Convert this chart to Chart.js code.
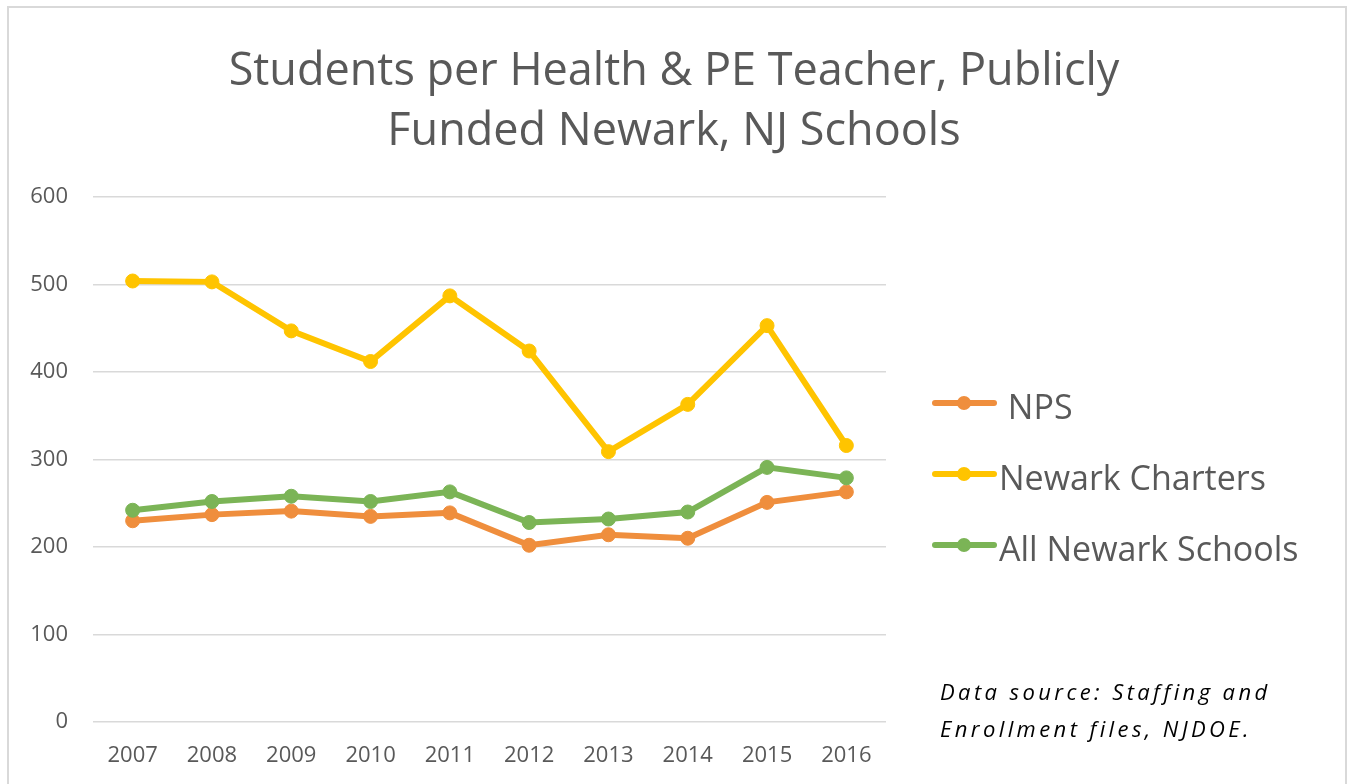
<!DOCTYPE html>
<html>
<head>
<meta charset="utf-8">
<title>Students per Health & PE Teacher</title>
<script src="https://cdn.jsdelivr.net/npm/chart.js@4"></script>
<style>
    body { margin: 0; background: #fff; overflow: hidden; }
    #wrap { position: relative; width: 1348px; height: 784px; overflow: hidden; }
    #frame { position: absolute; left: 7px; top: 6px; width: 1336px; height: 800px; border: 2px solid #d9d9d9; border-bottom: none; pointer-events: none; }
</style>
</head>
<body>
<div id="wrap">
    <canvas id="line-chart" width="1348" height="784"></canvas>
    <div id="frame"></div>
</div>
<script>
// values
var years = ['2007', '2008', '2009', '2010', '2011', '2012', '2013', '2014', '2015', '2016'];
var seriesNames = [' NPS', 'Newark Charters', 'All Newark Schools'];
var npsValues = [230, 237, 241, 235, 239, 202, 214, 210, 251, 263];
var charterValues = [504, 503, 447, 412, 487, 424, 309, 363, 453, 316];
var allSchoolsValues = [242, 252, 258, 252, 263, 228, 232, 240, 291, 279];
var yTicks = [0, 100, 200, 300, 400, 500, 600];
var titleLines = ['Students per Health & PE Teacher, Publicly', 'Funded Newark, NJ Schools'];
var sourceLines = ['Data source: Staffing and', 'Enrollment files, NJDOE.'];

var textColor = '#595959';
Chart.defaults.font.family = "'Open Sans', sans-serif";
Chart.defaults.color = textColor;

function makeDataset(label, values, color, order) {
    return {
        label: label,
        data: values,
        borderColor: color,
        backgroundColor: color,
        borderWidth: 6,
        pointRadius: 7,
        pointBorderWidth: 1,
        pointBorderColor: color,
        pointBackgroundColor: color,
        tension: 0,
        fill: false,
        order: order
    };
}

// legend + source note drawn in the space on the right
var sideNotes = {
    id: 'sideNotes',
    afterDraw: function (chart) {
        var ctx = chart.ctx;
        var rows = [403, 474, 545];
        ctx.save();
        chart.data.datasets.forEach(function (ds, i) {
            var y = rows[i];
            ctx.strokeStyle = ds.borderColor;
            ctx.lineWidth = 6;
            ctx.lineCap = 'round';
            ctx.beginPath();
            ctx.moveTo(935, y);
            ctx.lineTo(994, y);
            ctx.stroke();
            ctx.fillStyle = ds.borderColor;
            ctx.beginPath();
            ctx.arc(964, y, 7, 0, Math.PI * 2);
            ctx.fill();
            ctx.fillStyle = textColor;
            ctx.font = "34px 'Open Sans', sans-serif";
            ctx.textBaseline = 'alphabetic';
            ctx.textAlign = 'left';
            ctx.fillText(ds.label, 999, y + 16);
        });

        ctx.fillStyle = '#000';
        ctx.font = "italic 22px 'Open Sans', sans-serif";
        ctx.letterSpacing = '3.4px';
        ctx.fillText(sourceLines[0], 940, 700);
        ctx.fillText(sourceLines[1], 940, 737);
        ctx.restore();
    }
};

var ctx = document.getElementById('line-chart').getContext('2d');
var myChart = new Chart(ctx, {
    type: 'line',
    data: {
        labels: years,
        datasets: [
            makeDataset(seriesNames[0], npsValues, '#EF8E3D', 3),
            makeDataset(seriesNames[1], charterValues, '#FFC400', 2),
            makeDataset(seriesNames[2], allSchoolsValues, '#7BB456', 1)
        ]
    },
    options: {
        responsive: false,
        animation: false,
        devicePixelRatio: 1,
        layout: { padding: 0 },
        plugins: {
            legend: { display: false },
            tooltip: { enabled: false },
            title: {
                display: true,
                text: titleLines,
                color: textColor,
                font: { size: 45, weight: 'normal', lineHeight: 60 / 45 },
                padding: { top: 42, bottom: 35 }
            }
        },
        scales: {
            x: {
                offset: true,
                grid: { display: false },
                border: { display: false },
                ticks: { color: textColor, font: { size: 22 }, padding: 13, maxRotation: 0 },
                afterFit: function (scale) { scale.height = 62; }
            },
            y: {
                min: yTicks[0],
                max: yTicks[yTicks.length - 1],
                afterBuildTicks: function (scale) {
                    scale.ticks = yTicks.map(function (v) { return { value: v }; });
                },
                grid: { color: '#d9d9d9', lineWidth: 1.5, drawTicks: false },
                border: { display: false },
                ticks: { color: textColor, font: { size: 22 }, padding: 25 },
                afterFit: function (scale) { scale.width = 93; }
            },
            // empty axis that only keeps room for the legend and note
            side: {
                position: 'right',
                display: true,
                grid: { display: false },
                border: { display: false },
                ticks: { display: false },
                afterFit: function (scale) { scale.width = 462; }
            }
        }
    },
    plugins: [sideNotes]
});
</script>
</body>
</html>
